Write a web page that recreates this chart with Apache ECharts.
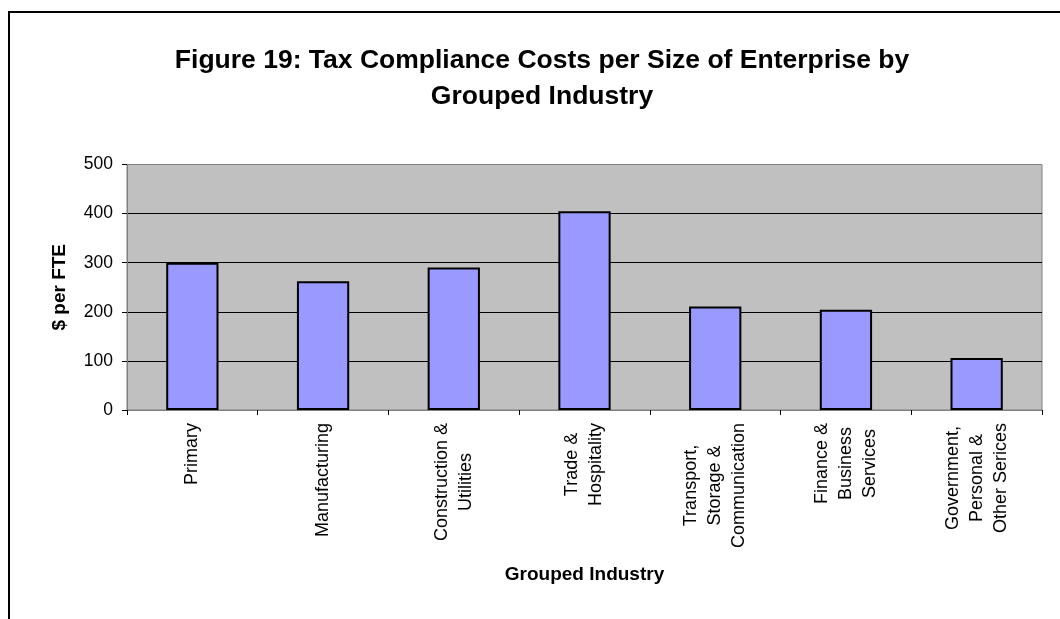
<!DOCTYPE html>
<html>
<head>
<meta charset="utf-8">
<script src="https://cdn.jsdelivr.net/npm/echarts@6/dist/echarts.min.js"></script>
<style>
  html, body { margin: 0; padding: 0; background: #fff; }
  #chart { width: 1060px; height: 619px; }
</style>
</head>
<body>
<div id="chart"></div>
<script>
// Grouped industries (line breaks as printed under the axis)
const categories = [
  'Primary',
  'Manufacturing',
  'Construction &\nUtilities',
  'Trade &\nHospitality',
  'Transport,\nStorage &\nCommunication',
  'Finance &\nBusiness\nServices',
  'Government,\nPersonal &\nOther Serices'
];
// Tax compliance cost, $ per FTE
const costPerFTE = [300, 262, 290, 405, 211, 204, 106];
const yTicks = [0, 100, 200, 300, 400, 500];

const titleLines = [
  'Figure 19: Tax Compliance Costs per Size of Enterprise by',
  'Grouped Industry'
];
const yAxisTitle = '$ per FTE';
const xAxisTitle = 'Grouped Industry';

const FONT = 'Arial, "Liberation Sans", sans-serif';

const chart = echarts.init(document.getElementById('chart'));
chart.setOption({
  backgroundColor: '#ffffff',
  animation: false,
  graphic: [
    {
      type: 'rect',
      shape: { x: 9, y: 12, width: 1100, height: 700 },
      style: { fill: 'none', stroke: '#000', lineWidth: 2 },
      silent: true
    },
    {
      type: 'text',
      style: {
        text: titleLines.join('\n'),
        x: 542, y: 43,
        textAlign: 'center',
        textVerticalAlign: 'top',
        font: 'bold 26.5px ' + FONT,
        lineHeight: 36,
        fill: '#000'
      },
      silent: true
    }
  ],
  grid: {
    left: 127, right: 18, top: 164.5, bottom: 209,
    show: true,
    backgroundColor: '#C0C0C0',
    borderColor: '#808080',
    borderWidth: 1
  },
  xAxis: {
    type: 'category',
    data: categories,
    name: xAxisTitle,
    nameLocation: 'middle',
    nameGap: 155,
    nameTextStyle: { fontFamily: FONT, fontWeight: 'bold', fontSize: 19, color: '#000' },
    axisLine: { show: true, lineStyle: { color: '#808080', width: 1 } },
    axisTick: { show: true, alignWithLabel: false, length: 5, lineStyle: { color: '#000' } },
    axisLabel: {
      interval: 0,
      rotate: 90,
      margin: 13,
      formatter: function (v) {
        return v.split('\n').map(function (s) { return '{c|' + s + '}'; }).join('\n');
      },
      rich: {
        c: { fontFamily: FONT, fontSize: 18, color: '#000', align: 'center', lineHeight: 24 }
      }
    }
  },
  yAxis: {
    type: 'value',
    min: yTicks[0],
    max: yTicks[yTicks.length - 1],
    interval: yTicks[1] - yTicks[0],
    name: yAxisTitle,
    nameLocation: 'middle',
    nameRotate: 90,
    nameGap: 58,
    nameTextStyle: { fontFamily: FONT, fontWeight: 'bold', fontSize: 19, color: '#000' },
    axisLine: { show: true, lineStyle: { color: '#808080', width: 1 } },
    axisTick: { show: true, length: 5, lineStyle: { color: '#000' } },
    axisLabel: { margin: 14, fontFamily: FONT, fontSize: 17.5, color: '#000' },
    splitLine: {
      show: true,
      lineStyle: { color: ['#808080', '#000', '#000', '#000', '#000', '#808080'], width: 1 }
    }
  },
  series: [{
    type: 'bar',
    data: costPerFTE,
    barWidth: '40%',
    itemStyle: { color: '#9999FF', borderColor: '#000', borderWidth: 2 }
  }]
});
</script>
</body>
</html>
